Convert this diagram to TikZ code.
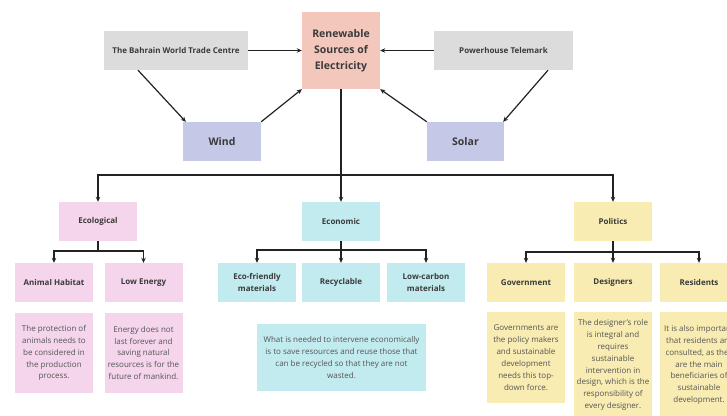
\documentclass[tikz,border=0pt]{standalone}
\usepackage{fontspec}
\setmainfont{Open Sans}
\usetikzlibrary{arrows.meta,calc}
\definecolor{cRen}{HTML}{F4C7BD}
\definecolor{cGray}{HTML}{DCDCDC}
\definecolor{cLav}{HTML}{C6C8E8}
\definecolor{cPink}{HTML}{F4D5EB}
\definecolor{cCyan}{HTML}{C1EBEE}
\definecolor{cYel}{HTML}{F8ECB2}
\definecolor{cTitle}{HTML}{3A3A3A}
\definecolor{cDesc}{HTML}{555555}
\definecolor{cLine}{HTML}{222222}
\tikzset{
  box/.style={rectangle, inner sep=2pt, align=center, text=cTitle},
  ttl/.style={box, font=\fontsize{8}{11.7}\selectfont\bfseries},
  big/.style={box, font=\fontsize{10.5}{16}\selectfont\bfseries},
  desc/.style={box, text=cDesc, font=\fontsize{8}{11.9}\selectfont},
  conn/.style={draw=cLine, line width=1.2pt},
  arr/.style={conn, -{Stealth[length=5pt,width=4.5pt]}},
}
\begin{document}
\begin{tikzpicture}[x=1pt,y=-1pt]
\useasboundingbox (0,0) rectangle (727,415);
\fill[white] (0,0) rectangle (727,415);
\clip (0,0) rectangle (727,415);
% top row
\node[big, fill=cRen, minimum width=78, minimum height=77] (ren) at (341,50.5) {Renewable\\Sources of\\Electricity};
\node[ttl, fill=cGray, minimum width=144, minimum height=39] (bah) at (176,50.5) {The Bahrain World Trade Centre};
\node[ttl, fill=cGray, minimum width=139, minimum height=39] (pow) at (503.5,50.5) {Powerhouse Telemark};
\node[big, fill=cLav, minimum width=78, minimum height=39] (wind) at (222,141.5) {Wind};
\node[big, fill=cLav, minimum width=77, minimum height=39] (solar) at (465.5,141.5) {Solar};
% categories
\node[ttl, fill=cPink, minimum width=78, minimum height=39] (ecol) at (98,221.5) {Ecological};
\node[ttl, fill=cCyan, minimum width=78, minimum height=39] (econ) at (341,221.5) {Economic};
\node[ttl, fill=cYel, minimum width=78, minimum height=39] (pol) at (613,221.5) {Politics};
% children
\node[ttl, fill=cPink, minimum width=78, minimum height=39] (animal) at (54,282.5) {Animal Habitat};
\node[ttl, fill=cPink, minimum width=78, minimum height=39] (low) at (143.5,282.5) {Low Energy};
\node[ttl, fill=cCyan, minimum width=78, minimum height=39] (ecof) at (257,282.5) {Eco-friendly\\materials};
\node[ttl, fill=cCyan, minimum width=78, minimum height=39] (recy) at (341,282.5) {Recyclable};
\node[ttl, fill=cCyan, minimum width=78, minimum height=39] (lowc) at (426,282.5) {Low-carbon\\materials};
\node[ttl, fill=cYel, minimum width=78, minimum height=39] (gov) at (526,282.5) {Government};
\node[ttl, fill=cYel, minimum width=78, minimum height=39] (des) at (613,282.5) {Designers};
\node[ttl, fill=cYel, minimum width=78, minimum height=39] (res) at (699,282.5) {Residents};
% descriptions
\node[desc, fill=cPink, minimum width=78, minimum height=80] (animalD) at (54,353) {The protection of\\animals needs to\\be considered in\\the production\\process.};
\node[desc, fill=cPink, minimum width=78, minimum height=80] (lowD) at (143.5,353) {Energy does not\\last forever and\\saving natural\\resources is for the\\future of mankind.};
\node[desc, fill=cCyan, minimum width=169, minimum height=67] (econD) at (341.5,357.5) {What is needed to intervene economically\\is to save resources and reuse those that\\can be recycled so that they are not\\wasted.};
\node[desc, fill=cYel, minimum width=78, minimum height=91] (govD) at (526,357.5) {Governments are\\the policy makers\\and sustainable\\development\\needs this top-\\down force.};
\node[desc, fill=cYel, minimum width=78, minimum height=106] (desD) at (613,365) {The designer's role\\is integral and\\requires\\sustainable\\intervention in\\design, which is the\\responsibility of\\every designer.};
\node[desc, fill=cYel, minimum width=78, minimum height=106] (resD) at (699,365) {It is also important\\that residents are\\consulted, as they\\are the main\\beneficiaries of\\sustainable\\development.};
% connectors top
\draw[arr] (bah.east) -- (ren.west);
\draw[arr] (pow.west) -- (ren.east);
\draw[arr] ($(bah.south)+(-38,0)$) -- ($(wind.north west)+(3,0)$);
\draw[arr] (wind.north east) -- (ren.south west);
\draw[arr] (solar.north west) -- (ren.south east);
\draw[arr] ($(pow.south)+(44.5,0)$) -- ($(solar.north east)+(-1,0)$);
% main bus
\coordinate (busT) at (341,175);
\draw[arr] (ren.south) -- (econ.north);
\draw[arr] (busT) -| (ecol.north);
\draw[arr] (busT) -| (pol.north);
% ecological branch
\coordinate (ecoB) at (98,251);
\draw[conn] (ecol.south) -- (ecoB);
\draw[arr] (ecoB) -| (animal.north);
\draw[arr] (ecoB) -| (low.north);
% economic branch
\coordinate (econB) at (341,250);
\draw[arr] (econ.south) -- (recy.north);
\draw[arr] (econB) -| (ecof.north);
\draw[arr] (econB) -| (lowc.north);
% politics branch
\coordinate (polB) at (613,252);
\draw[arr] (pol.south) -- (des.north);
\draw[arr] (polB) -| (gov.north);
\draw[arr] (polB) -| (res.north);
\end{tikzpicture}
\end{document}
